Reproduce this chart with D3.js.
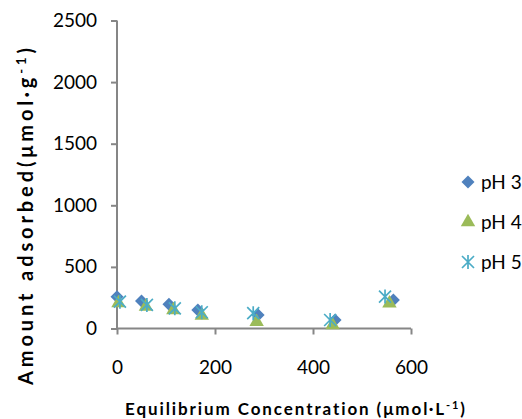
<!DOCTYPE html>
<html><head><meta charset="utf-8">
<script src="https://cdn.jsdelivr.net/npm/d3@7"></script>
<style>
html,body{margin:0;padding:0;background:#fff;}
svg{display:block;font-family:Lato,"Open Sans",sans-serif;font-variant-ligatures:none;}
</style></head>
<body><svg id="c" width="522" height="419"></svg>
<script>
const xTicks = [0, 200, 400, 600];
const yTicks = [0, 500, 1000, 1500, 2000, 2500];
const seriesNames = ["pH 3", "pH 4", "pH 5"];
const ph3X = [0, 50, 106, 165, 288, 445, 564];
const ph3Y = [258, 224, 197, 150, 110, 69, 232];
const ph4X = [3, 59, 115, 173, 285, 440, 556];
const ph4Y = [207, 177, 150, 104, 55, 28, 205];
const ph5X = [6, 61, 118, 173, 278, 435, 547];
const ph5Y = [218, 191, 164, 132, 124, 69, 259];

const svg = d3.select("#c");
const x = d3.scaleLinear().domain([0, 600]).range([117, 411]);
const y = d3.scaleLinear().domain([0, 2500]).range([328.5, 20.5]);
const axisColor = "#868686";

const xAxis = svg.append("g").attr("transform", "translate(0,328.5)")
  .call(d3.axisBottom(x).tickValues(xTicks).tickSize(6).tickPadding(26).tickFormat(d3.format("d")));
const yAxis = svg.append("g").attr("transform", "translate(117,0)")
  .call(d3.axisLeft(y).tickValues(yTicks).tickSize(6).tickPadding(14).tickFormat(d3.format("d")));
[xAxis, yAxis].forEach(g => {
  g.select(".domain").attr("stroke", axisColor).attr("stroke-width", 2);
  g.selectAll(".tick line").attr("stroke", axisColor).attr("stroke-width", 2);
  g.selectAll(".tick text").attr("fill", "#000").style("font-size", "19px").style("font-family", "Lato");
});
xAxis.select(".domain").attr("d", `M${x(0)},0H${x(600)}`);
yAxis.select(".domain").attr("d", `M0,${y(0)}V${y(2500)}`);

const colors = ["#4F81BD", "#9BBB59", "#4BACC6"];
const triangle = d3.symbol().type(d3.symbolTriangle).size(90);
const star = "M-6,-6L6,6M-6,6L6,-6M0,-7V7";

function draw(g, kind, color, cx, cy) {
  if (kind === 0) g.append("path").attr("d", d3.symbol().type(d3.symbolSquare).size(85)()).attr("transform", `translate(${cx},${cy}) rotate(45)`).attr("fill", color);
  else if (kind === 1) g.append("path").attr("d", triangle()).attr("transform", `translate(${cx},${cy})`).attr("fill", color);
  else g.append("path").attr("d", star).attr("transform", `translate(${cx},${cy})`).attr("fill", "none").attr("stroke", color).attr("stroke-width", 1.7);
}

const series = [[ph3X, ph3Y], [ph4X, ph4Y], [ph5X, ph5Y]];
const pts = svg.append("g");
series.forEach((s, k) => {
  s[0].forEach((xv, i) => draw(pts, k, colors[k], x(xv), y(s[1][i])));
});

// legend
const leg = svg.append("g");
seriesNames.forEach((n, k) => {
  const ly = 182 + k * 40;
  draw(leg, k, colors[k], 468, ly);
  leg.append("text").attr("x", 481).attr("y", ly).attr("dy", "0.35em")
    .style("font-size", "19px").text(n);
});

// titles
svg.append("text").attr("x", 125).attr("y", 409).attr("dy", "0.35em")
  .attr("textLength", 340).attr("lengthAdjust", "spacing")
  .style("font-size", "17px").style("font-weight", "bold")
  .html('Equilibrium Concentration (μmol·L<tspan dy="-6" font-size="11px">-1</tspan><tspan dy="6">)</tspan>');
svg.append("text").attr("transform", "translate(26,385) rotate(-90)").attr("dy", "0.35em")
  .attr("textLength", 337).attr("lengthAdjust", "spacing")
  .style("font-size", "20px").style("font-weight", "bold")
  .html('Amount adsorbed(μmol·g<tspan dy="-7" font-size="13px">-1</tspan><tspan dy="7">)</tspan>');
</script></body></html>
